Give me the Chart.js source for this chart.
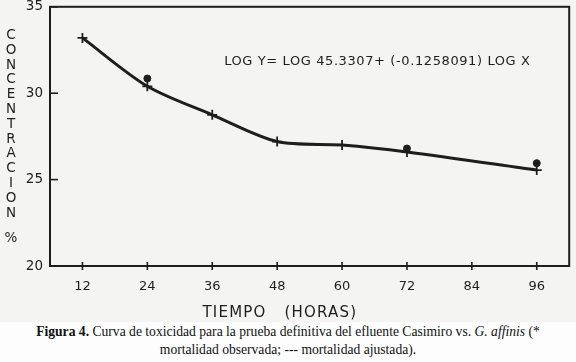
<!DOCTYPE html>
<html>
<head>
<meta charset="utf-8">
<script src="https://cdn.jsdelivr.net/npm/chart.js@4.4.1/dist/chart.umd.min.js"></script>
<style>
    html, body { margin: 0; padding: 0; }
    body { width: 576px; height: 362px; background: #f4f4f2; position: relative; overflow: hidden; }
    #chart-wrap { position: absolute; left: 0; top: 0; width: 576px; height: 322px; }
    #y-title {
        position: absolute; left: 3px; top: 27px; width: 16px;
        font-family: "DejaVu Sans", sans-serif; font-size: 13.5px; color: #1e1e1e;
        text-align: center; line-height: 14.8px;
    }
    #caption {
        position: absolute; left: 0; top: 322px; width: 576px; height: 40px; background: #fdfdfd;
        font-family: "Liberation Serif", serif; font-size: 13.6px; color: #111;
        text-align: center; line-height: 18px; padding-top: 1px;
    }
</style>
</head>
<body>
<div id="chart-wrap"><canvas id="toxicity-chart" width="576" height="322"></canvas></div>
<div id="y-title">C<br>O<br>N<br>C<br>E<br>N<br>T<br>R<br>A<br>C<br>I<br>O<br>N<br><br><span style="position:relative;top:-4px">%</span></div>
<div id="caption">
    <b>Figura 4.</b> Curva de toxicidad para la prueba definitiva del efluente Casimiro vs. <i>G. affinis</i> (*<br>
    mortalidad observada; --- mortalidad ajustada).
</div>

<script>
// horas de exposicion
const hours = [12, 24, 36, 48, 60, 72, 96];
// mortalidad ajustada (cruces sobre la curva)
const fittedConc = [33.2, 30.4, 28.75, 27.2, 27.0, 26.6, 25.55];
// mortalidad observada (puntos)
const observedConc = [null, 30.85, null, null, null, 26.8, 25.95];

const xTicks = [12, 24, 36, 48, 60, 72, 84, 96];
const yTicks = [20, 25, 30, 35];
const equationText = "LOG Y= LOG 45.3307+ (-0.1258091) LOG X";
const xTitleText = "TIEMPO   (HORAS)";

const ink = "#1e1e1e";

// caja del grafico, marcas de los ejes, titulo x y la ecuacion
const framePlugin = {
    id: "frame",
    afterDraw(chart) {
        const { ctx, chartArea, scales } = chart;
        ctx.save();
        ctx.strokeStyle = ink;
        ctx.lineWidth = 2;
        ctx.strokeRect(chartArea.left, chartArea.top, chartArea.right - chartArea.left, chartArea.bottom - chartArea.top);

        ctx.lineWidth = 1.6;
        xTicks.forEach(v => {
            const x = scales.x.getPixelForValue(v);
            ctx.beginPath();
            ctx.moveTo(x, chartArea.bottom - 4);
            ctx.lineTo(x, chartArea.bottom + 4);
            ctx.stroke();
        });
        yTicks.forEach(v => {
            const y = scales.y.getPixelForValue(v);
            ctx.beginPath();
            ctx.moveTo(chartArea.left, y);
            ctx.lineTo(chartArea.left + 8, y);
            ctx.stroke();
        });

        ctx.fillStyle = ink;
        ctx.font = "13px 'DejaVu Sans', sans-serif";
        ctx.letterSpacing = "0.6px";
        ctx.textBaseline = "middle";
        ctx.textAlign = "left";
        ctx.fillText(equationText, scales.x.getPixelForValue(38.2), scales.y.getPixelForValue(31.8));

        ctx.font = "15px 'DejaVu Sans', sans-serif";
        ctx.letterSpacing = "1.2px";
        ctx.textAlign = "center";
        ctx.fillText(xTitleText, scales.x.getPixelForValue(48.5), chartArea.bottom + 47);
        ctx.restore();
    }
};

const ctx = document.getElementById("toxicity-chart").getContext("2d");

new Chart(ctx, {
    type: "line",
    data: {
        datasets: [
            {
                label: "ajustada",
                data: hours.map((h, i) => ({ x: h, y: fittedConc[i] })),
                borderColor: ink,
                borderWidth: 3,
                tension: 0.3,
                pointStyle: "cross",
                pointRadius: 5,
                pointBorderWidth: 1.8,
                pointBorderColor: ink
            },
            {
                label: "observada",
                data: hours.map((h, i) => ({ x: h, y: observedConc[i] })),
                showLine: false,
                pointStyle: "circle",
                pointRadius: 3.5,
                pointBackgroundColor: ink,
                pointBorderColor: ink
            }
        ]
    },
    options: {
        responsive: false,
        animation: false,
        layout: { padding: { left: 0, right: 6, top: 0, bottom: 0 } },
        plugins: {
            legend: { display: false },
            tooltip: { enabled: false }
        },
        scales: {
            x: {
                type: "linear",
                min: 6,
                max: 102,
                afterBuildTicks: scale => { scale.ticks = xTicks.map(v => ({ value: v })); },
                afterFit: scale => { scale.height = 56; scale.paddingLeft = 0; scale.paddingRight = 0; },
                grid: { display: false, drawTicks: false },
                border: { display: false },
                ticks: {
                    color: ink,
                    padding: 13,
                    font: { family: "'DejaVu Sans', sans-serif", size: 13 }
                }
            },
            y: {
                min: 20,
                max: 35,
                afterBuildTicks: scale => { scale.ticks = yTicks.map(v => ({ value: v })); },
                afterFit: scale => { scale.width = 50; scale.paddingTop = 0; scale.paddingBottom = 0; },
                grid: { display: false, drawTicks: false },
                border: { display: false },
                ticks: {
                    color: ink,
                    padding: 7,
                    font: { family: "'DejaVu Sans', sans-serif", size: 13.5 }
                }
            }
        }
    },
    plugins: [framePlugin]
});
</script>
</body>
</html>
